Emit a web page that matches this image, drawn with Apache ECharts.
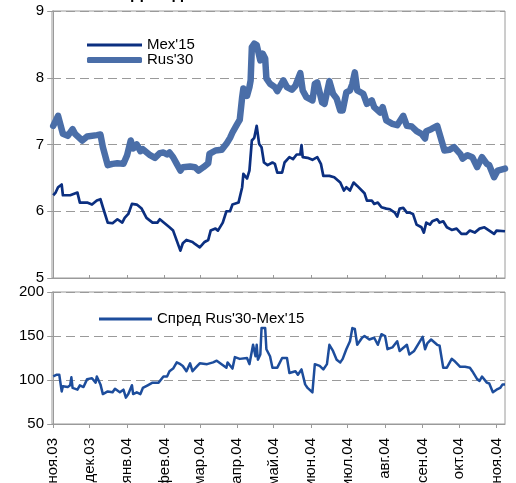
<!DOCTYPE html>
<html>
<head>
<meta charset="utf-8">
<script src="https://cdn.jsdelivr.net/npm/echarts@6/dist/echarts.min.js"></script>
<style>
  html, body { margin: 0; padding: 0; background: #fff; }
  #chart { width: 516px; height: 483px; }
</style>
</head>
<body>
<div id="chart"></div>
<script>
// x = days since 1 Nov 2003
const monthDays = [0, 30, 61, 92, 121, 152, 182, 213, 243, 274, 305, 335, 366];
const monthLabels = ['ноя.03', 'дек.03', 'янв.04', 'фев.04', 'мар.04', 'апр.04', 'май.04',
  'июн.04', 'июл.04', 'авг.04', 'сен.04', 'окт.04', 'ноя.04'];

const mexDays = [0, 2, 4, 7, 8, 14, 20, 22, 28, 32, 36, 39, 41, 45, 49, 53, 57, 59, 62, 65, 69, 73, 77, 82,
  86, 88, 92, 96, 99, 102, 105, 107, 110, 115, 117, 121, 125, 128, 130, 134, 136, 140, 143, 146, 148, 153,
  156, 157, 160, 162, 164, 166, 168, 170, 172, 174, 177, 181, 183, 185, 189, 191, 195, 198, 201, 204, 205,
  206, 210, 214, 218, 221, 223, 228, 232, 237, 240, 242, 245, 248, 251, 257, 259, 263, 265, 268, 271, 275,
  278, 282, 284, 286, 289, 292, 294, 297, 300, 304, 306, 308, 311, 313, 317, 319, 322, 325, 329, 333, 337,
  341, 344, 348, 352, 356, 360, 364, 366, 373];
const mexYield = [6.24, 6.28, 6.36, 6.40, 6.24, 6.24, 6.28, 6.13, 6.13, 6.10, 6.16, 6.18, 6.06, 5.83, 5.82,
  5.88, 5.83, 5.90, 5.96, 6.11, 6.10, 6.04, 5.90, 5.83, 5.83, 5.88, 5.82, 5.76, 5.71, 5.56, 5.41, 5.52, 5.57,
  5.54, 5.51, 5.46, 5.54, 5.57, 5.71, 5.74, 5.71, 5.83, 6.00, 6.00, 6.10, 6.13, 6.36, 6.56, 6.49, 6.61, 7.06,
  7.10, 7.28, 7.01, 6.96, 6.73, 6.69, 6.73, 6.71, 6.58, 6.58, 6.73, 6.81, 6.78, 6.85, 6.85, 6.99, 6.81, 6.80,
  6.77, 6.81, 6.71, 6.53, 6.53, 6.51, 6.43, 6.31, 6.36, 6.31, 6.43, 6.38, 6.27, 6.16, 6.16, 6.11, 6.13, 6.06,
  6.04, 6.03, 5.98, 5.92, 6.04, 6.05, 5.98, 5.98, 5.96, 5.80, 5.76, 5.68, 5.83, 5.80, 5.85, 5.88, 5.83, 5.85,
  5.76, 5.72, 5.74, 5.66, 5.66, 5.71, 5.68, 5.74, 5.76, 5.71, 5.66, 5.71, 5.70];

const rusDays = [0, 4, 8, 12, 16, 18, 24, 28, 36, 39, 41, 45, 49, 53, 58, 61, 64, 66, 69, 72, 74, 80, 84, 88,
  91, 94, 96, 99, 102, 105, 107, 113, 117, 120, 124, 128, 129, 134, 139, 143, 146, 148, 152, 154, 156, 157,
  160, 162, 163, 164, 166, 168, 171, 173, 175, 176, 179, 183, 185, 190, 193, 197, 200, 204, 206, 209, 214,
  216, 218, 222, 224, 228, 231, 234, 237, 239, 242, 245, 247, 249, 251, 256, 259, 263, 265, 270, 272, 275,
  280, 284, 289, 292, 296, 300, 304, 307, 308, 312, 317, 319, 323, 327, 331, 336, 338, 342, 346, 350, 354,
  358, 360, 364, 367, 373];
const rusYield = [7.28, 7.43, 7.16, 7.13, 7.23, 7.16, 7.06, 7.12, 7.14, 7.15, 6.96, 6.69, 6.71, 6.72, 6.71,
  6.84, 7.06, 6.94, 7.00, 6.90, 6.93, 6.84, 6.80, 6.87, 6.88, 6.85, 6.88, 6.81, 6.71, 6.61, 6.66, 6.67, 6.66,
  6.61, 6.66, 6.72, 6.86, 6.91, 6.92, 7.01, 7.10, 7.18, 7.31, 7.37, 7.71, 7.84, 7.73, 7.86, 7.96, 8.46, 8.51,
  8.49, 8.26, 8.36, 8.29, 7.99, 7.91, 7.86, 7.80, 7.96, 7.86, 7.82, 7.88, 8.07, 7.81, 7.71, 7.66, 7.91, 7.93,
  7.63, 7.61, 7.95, 7.76, 7.69, 7.51, 7.51, 7.78, 7.81, 7.91, 8.08, 7.81, 7.76, 7.61, 7.66, 7.56, 7.48, 7.56,
  7.36, 7.31, 7.29, 7.43, 7.28, 7.27, 7.20, 7.16, 7.09, 7.20, 7.23, 7.28, 7.16, 6.91, 6.92, 6.96, 6.86, 6.79,
  6.84, 6.81, 6.66, 6.81, 6.71, 6.69, 6.51, 6.61, 6.64];

const spreadDays = [0, 3, 5, 7, 8, 12, 14, 15, 16, 20, 22, 25, 28, 32, 35, 36, 39, 41, 45, 49, 51, 55, 58, 60,
  62, 65, 66, 69, 72, 74, 78, 82, 87, 91, 94, 96, 99, 102, 105, 107, 110, 113, 115, 119, 121, 127, 132, 135,
  139, 143, 144, 148, 150, 154, 160, 162, 165, 167, 168, 169, 171, 172, 175, 176, 179, 181, 185, 189, 193,
  195, 200, 202, 205, 208, 210, 214, 216, 220, 223, 226, 228, 231, 234, 237, 239, 242, 245, 247, 249, 251,
  255, 257, 261, 265, 268, 271, 274, 276, 280, 284, 286, 292, 294, 298, 301, 305, 307, 309, 312, 317, 319,
  322, 325, 329, 331, 336, 340, 344, 346, 350, 352, 354, 358, 360, 363, 366, 369, 371, 373];
const spreadBp = [104, 106, 106, 87, 93, 92, 94, 103, 91, 89, 94, 92, 101, 102, 97, 104, 95, 84, 87, 86, 90,
  86, 89, 80, 84, 94, 84, 86, 84, 91, 94, 97, 97, 104, 104, 110, 113, 120, 118, 116, 110, 119, 110, 116, 119,
  118, 120, 122, 118, 114, 120, 113, 126, 124, 125, 118, 140, 127, 140, 123, 129, 159, 159, 135, 127, 114,
  114, 125, 125, 108, 110, 106, 112, 95, 91, 86, 118, 116, 112, 118, 140, 133, 123, 120, 124, 135, 144, 159,
  158, 140, 148, 150, 146, 148, 140, 152, 150, 135, 137, 144, 133, 140, 129, 133, 140, 149, 135, 142, 146,
  140, 139, 114, 114, 124, 122, 115, 115, 114, 110, 101, 99, 104, 97, 96, 86, 89, 91, 95, 95];

const zip = (xs, ys) => xs.map((x, i) => [x, ys[i]]);

const FONT = '"Liberation Sans", Arial, sans-serif';
const GRAY = '#9a9a9a';
const MEX_COLOR = '#0b2f80';
const RUS_COLOR = '#4a6ea8';
const SPREAD_COLOR = '#1d4d9c';

const chart = echarts.init(document.getElementById('chart'));

const xAxisBase = (grid, showLabels) => ({
  type: 'value',
  gridIndex: grid,
  min: -1,
  max: 373,
  axisLine: { show: true, lineStyle: { color: GRAY, width: 1 } },
  axisTick: {
    show: true,
    inside: !showLabels,
    length: showLabels ? 4 : 3,
    customValues: monthDays,
    lineStyle: { color: GRAY }
  },
  axisLabel: {
    show: showLabels,
    customValues: monthDays,
    rotate: 90,
    margin: 14,
    fontSize: 15,
    fontFamily: FONT,
    color: '#000',
    formatter: v => monthLabels[monthDays.indexOf(v)] || ''
  },
  splitLine: { show: false }
});

const yAxisBase = (grid, min, max, step) => ({
  type: 'value',
  gridIndex: grid,
  min: min,
  max: max,
  interval: step,
  axisLine: { show: true, lineStyle: { color: GRAY } },
  axisTick: { show: true, length: 6, lineStyle: { color: GRAY } },
  axisLabel: { fontSize: 15, fontFamily: FONT, color: '#000', margin: 8 },
  splitLine: { show: true, lineStyle: { color: GRAY, type: [9, 5], width: 1 } }
});

const legendItem = (name, left, centerY, width, thick, icon) => ({
  data: [{ name: name, icon: icon }],
  left: left,
  top: centerY - 8,
  itemWidth: width,
  itemHeight: thick,
  padding: 0,
  textStyle: { fontSize: 15, lineHeight: 16, fontFamily: FONT, color: '#000' }
});

chart.setOption({
  animation: false,
  backgroundColor: '#fff',
  title: {
    text: 'Доходность',
    left: 126,
    top: -19,
    textStyle: { fontSize: 17, fontWeight: 'bold', fontFamily: FONT, color: '#000' }
  },
  grid: [
    { left: 52, right: 11, top: 11, height: 267, outerBoundsMode: 'none',
      show: true, borderColor: GRAY, borderWidth: 1 },
    { left: 52, right: 11, top: 292, bottom: 59, outerBoundsMode: 'none',
      show: true, borderColor: GRAY, borderWidth: 1 }
  ],
  legend: [
    legendItem("Mex'15", 87, 45, 55, 3, 'rect'),
    legendItem("Rus'30", 87, 60, 55, 6, 'roundRect'),
    legendItem("Спред Rus'30-Mex'15", 99, 319, 53, 3, 'rect')
  ],
  xAxis: [xAxisBase(0, false), xAxisBase(1, true)],
  yAxis: [yAxisBase(0, 5, 9, 1), yAxisBase(1, 50, 200, 50)],
  series: [
    {
      name: "Rus'30",
      type: 'line',
      xAxisIndex: 0,
      yAxisIndex: 0,
      data: zip(rusDays, rusYield),
      symbol: 'none',
      lineStyle: { color: RUS_COLOR, width: 6.5, cap: 'round', join: 'round' },
      itemStyle: { color: RUS_COLOR }
    },
    {
      name: "Mex'15",
      type: 'line',
      xAxisIndex: 0,
      yAxisIndex: 0,
      data: zip(mexDays, mexYield),
      symbol: 'none',
      lineStyle: { color: MEX_COLOR, width: 2.7, join: 'round' },
      itemStyle: { color: MEX_COLOR }
    },
    {
      name: "Спред Rus'30-Mex'15",
      type: 'line',
      xAxisIndex: 1,
      yAxisIndex: 1,
      data: zip(spreadDays, spreadBp),
      symbol: 'none',
      lineStyle: { color: SPREAD_COLOR, width: 2.5, join: 'round' },
      itemStyle: { color: SPREAD_COLOR }
    }
  ]
});
</script>
</body>
</html>
